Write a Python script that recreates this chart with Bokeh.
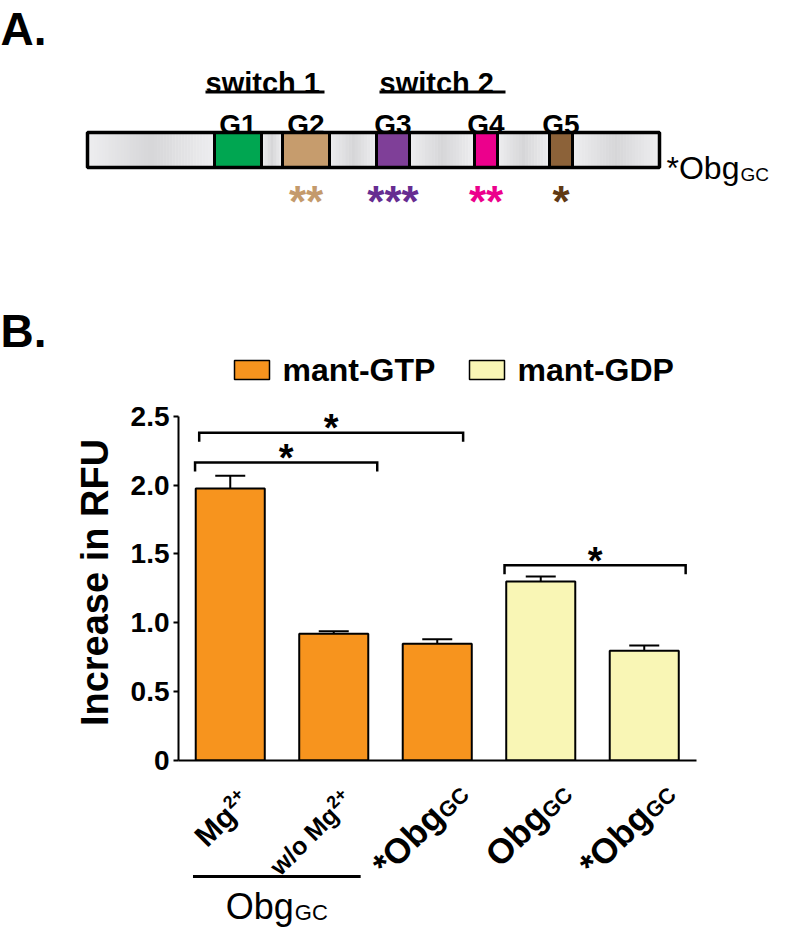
import numpy as np
from bokeh.plotting import figure
from bokeh.models import Range1d, FixedTicker, Whisker, TeeHead, ColumnDataSource
from bokeh.embed import file_html
from bokeh.resources import INLINE
from bokeh.core.properties import value

# ---------------- Panel A data (schematic positions along the construct) ----------------
motif_names = ["G1", "G2", "G3", "G4", "G5"]
motif_start = [222, 290, 384, 482, 557]
motif_end = [269, 337, 417, 505, 580]
motif_colors = ["#00a651", "#c69c6d", "#7f3f98", "#ec008c", "#8c6239"]
motif_stars = ["", "**", "***", "**", "*"]
motif_star_colors = ["#00a651", "#c49a6c", "#662d91", "#ec008c", "#603913"]
construct_span = [95, 667]
switch_names = ["switch 1", "switch 2"]
switch_start = [213, 387]
switch_end = [332, 513]
construct_name = "*Obg"
construct_sub = "GC"

# ---------------- Panel B data ----------------
cat_main = ["Mg", "w/o Mg", "*Obg", "Obg", "*Obg"]
cat_suffix = ["2+", "2+", "GC", "GC", "GC"]
cat_suffix_kind = ["sup", "sup", "sub", "sub", "sub"]
cat_series = ["mant-GTP", "mant-GTP", "mant-GTP", "mant-GDP", "mant-GDP"]
rfu_mean = [1.975, 0.920, 0.848, 1.300, 0.797]
rfu_sem = [0.093, 0.018, 0.032, 0.037, 0.038]
series_names = ["mant-GTP", "mant-GDP"]
series_colors = ["#f7941e", "#f9f6b5"]
y_ticks = [0, 0.5, 1.0, 1.5, 2.0, 2.5]
y_tick_labels = ["0", "0.5", "1.0", "1.5", "2.0", "2.5"]
sig_left = [0.20, 0.16, 3.15]
sig_right = [2.75, 1.92, 4.90]
sig_level = [2.38, 2.165, 1.418]
sig_mark = ["*", "*", "*"]
group_span = [0.14, 1.76]
group_main = "Obg"
group_sub = "GC"

# ---------------- layout / style constants ----------------
FONT = value("Liberation Sans")
MARGIN = 8
W = 776
A_BOT = 404          # page y where panel-A canvas ends
B_TOP_PAD = 8        # room above the chart frame (for the top tick label)
FRAME_TOP = A_BOT + B_TOP_PAD
X_AX_PAD = 18        # height of the x-axis panel under the chart frame
Y0_PAGE = 768        # page y of RFU = 0 (= bottom of chart frame)
B_BOT = Y0_PAGE + X_AX_PAD
C_BOT = 935          # page y where label canvas ends
LEFT = 178
X_PX = 103.5   # px per category slot
Y_PX = 137.7   # px per RFU unit
U = np.array([np.cos(np.pi / 4), -np.sin(np.pi / 4)])  # text direction (page px)
N = np.array([np.cos(np.pi / 4), np.sin(np.pi / 4)])   # glyph-down direction (page px)

ARIAL_W = {
    "normal": {"*": 389, "O": 778, "b": 556, "g": 556, "G": 778, "C": 722},
    "bold": {"*": 389, "O": 778, "b": 611, "g": 611, "G": 778, "C": 722},
}


def text_w(s, size, style):
    return sum(ARIAL_W[style][c] for c in s) * size / 1000.0


def txt(p, x, y, text, size, color="black", align="left", baseline="alphabetic",
        style="bold", angle=0.0):
    n = len(text)
    p.text(x=list(x), y=list(y), text=list(text), text_font=FONT,
           text_font_size=f"{size}px", text_font_style=style,
           text_color=color if isinstance(color, list) else [color] * n,
           text_align=align, text_baseline=baseline, angle=angle)


def canvas(height, y0, y1, x_range=None, left=0):
    p = figure(width=W, height=height,
               x_range=x_range if x_range is not None else Range1d(MARGIN, MARGIN + W),
               y_range=Range1d(y1, y0), output_backend="svg", toolbar_location=None,
               min_border=0, min_border_left=left,
               x_axis_location=None, y_axis_location=None)
    p.grid.visible = False
    p.outline_line_color = None
    return p


# ======================= Panel A (+ "B." and legend) =======================
pA = canvas(A_BOT - MARGIN, MARGIN, A_BOT)

txt(pA, [MARGIN], [36], ["A."], 46)
txt(pA, [MARGIN], [338], ["B."], 46)

# switch labels + underline
txt(pA, switch_start, [90] * 2, switch_names, 29)
pA.segment(x0=switch_start, y0=[99.5] * 2, x1=switch_end, y1=[99.5] * 2,
           line_width=3, line_color="black")

# gradient gray body of the construct
bar_top, bar_bot = 140, 175
bounds = [construct_span[0]] + [v for pair in zip(motif_start, motif_end) for v in pair] + [construct_span[1]]
sl, sr, sc = [], [], []
for a, b in zip(bounds[0::2], bounds[1::2]):
    n = max(4, int((b - a) / 3))
    xs = np.linspace(a, b, n + 1)
    for k in range(n):
        t = (k + 0.5) / n
        g = 1 - abs(t - 0.5) * 2
        v = int(round(238 - 24 * g))
        sl.append(xs[k]); sr.append(xs[k + 1] + 0.4)
        sc.append("#%02x%02x%02x" % (v, v, min(255, v + 2)))
pA.quad(left=sl, right=sr, top=[bar_top] * len(sl), bottom=[bar_bot] * len(sl),
        fill_color=sc, line_color=None)

# motif boxes and outline
pA.quad(left=motif_start, right=motif_end, top=[bar_top] * 5, bottom=[bar_bot] * 5,
        fill_color=motif_colors, line_color="black", line_width=3)
pA.quad(left=[construct_span[0]], right=[construct_span[1]], top=[bar_top], bottom=[bar_bot],
        fill_color=None, line_color="black", line_width=3.5)

centers = [(s + e) / 2 for s, e in zip(motif_start, motif_end)]
txt(pA, centers, [132] * 5, motif_names, 28, align="center")

star_idx = [i for i, s in enumerate(motif_stars) if s]
txt(pA, [centers[i] for i in star_idx], [209] * len(star_idx),
    [motif_stars[i] for i in star_idx], 44,
    color=[motif_star_colors[i] for i in star_idx], align="center")

cx0 = 674
txt(pA, [cx0], [175], [construct_name], 32, style="normal")
txt(pA, [cx0 + text_w(construct_name, 32, "normal") + 1], [182], [construct_sub], 19, style="normal")

# legend of panel B (manual, in the series colours)
leg_x_page = [242, 477]
leg_y_page = 377.5
for name, color, lx in zip(series_names, series_colors, leg_x_page):
    pA.quad(left=[lx], right=[lx + 35], top=[leg_y_page - 9.5], bottom=[leg_y_page + 9.5],
            fill_color=color, line_color="black", line_width=1.5)
    txt(pA, [lx + 48], [leg_y_page], [name], 32, baseline="middle")

# ======================= Panel B chart =======================
frame_w = W - LEFT

pB = figure(width=W, height=B_BOT - A_BOT, x_range=Range1d(0, frame_w / X_PX),
            y_range=Range1d(0, (Y0_PAGE - FRAME_TOP) / Y_PX),
            output_backend="svg", toolbar_location=None,
            min_border_left=LEFT, min_border_right=0, min_border_top=B_TOP_PAD,
            min_border_bottom=X_AX_PAD)
pB.grid.visible = False
pB.outline_line_color = None

for s, color in zip(series_names, series_colors):
    idx = [i for i in range(len(cat_series)) if cat_series[i] == s]
    src = ColumnDataSource(dict(
        x=[i + 0.5 for i in idx],
        top=[rfu_mean[i] for i in idx],
        upper=[rfu_mean[i] + rfu_sem[i] for i in idx],
    ))
    pB.vbar(x="x", top="top", bottom=0, width=0.667, source=src,
            fill_color=color, line_color="black", line_width=2)
    pB.add_layout(Whisker(source=src, base="x", lower="top", upper="upper",
                          upper_head=TeeHead(size=30, line_width=2, line_color="black"),
                          lower_head=None, line_width=2, line_color="black"))

# significance brackets
drop = 9 / Y_PX
pB.multi_line(xs=[[a, a, b, b] for a, b in zip(sig_left, sig_right)],
              ys=[[y - drop, y, y, y - drop] for y in sig_level],
              line_width=2.5, line_color="black", line_join="miter")
txt(pB, [(a + b) / 2 for a, b in zip(sig_left, sig_right)],
    [y + 4.5 / Y_PX for y in sig_level], sig_mark, 38, align="center")

# axes
yax = pB.yaxis[0]
yax.bounds = (0, 2.5)
yax.ticker = FixedTicker(ticks=y_ticks)
yax.major_label_overrides = {t: l for t, l in zip(y_ticks, y_tick_labels)}
yax.minor_tick_line_color = None
yax.major_tick_out = 5
yax.major_tick_in = 0
yax.major_tick_line_width = 2
yax.axis_line_width = 2
yax.major_label_standoff = 4
yax.major_label_text_font = "Liberation Sans"
yax.major_label_text_font_style = "bold"
yax.major_label_text_font_size = "28px"
yax.major_label_text_color = "black"
yax.axis_label = "Increase in RFU"
yax.axis_label_text_font = "Liberation Sans"
yax.axis_label_text_font_style = "bold"
yax.axis_label_text_font_size = "38px"
yax.axis_label_text_color = "black"
yax.axis_label_standoff = 12

xax = pB.xaxis[0]
xax.bounds = (0, 5)
xax.ticker = FixedTicker(ticks=[])
xax.major_tick_out = 0
xax.major_tick_in = 0
xax.minor_tick_out = 0
xax.minor_tick_in = 0
xax.major_label_standoff = 0
xax.axis_label_standoff = 0
xax.axis_line_width = 2

# ======================= category labels (shared x scale) =======================
pC = canvas(C_BOT - B_BOT, B_BOT, C_BOT, x_range=pB.x_range, left=LEFT)

lab_y_page = 818
main_sizes = [30, 25, 35, 35, 35]
suffix_sizes = [18, 18, 22, 22, 22]
for i, (m, sfx, kind) in enumerate(zip(cat_main, cat_suffix, cat_suffix_kind)):
    xm = i + 0.5
    txt(pC, [xm], [lab_y_page], [m], main_sizes[i], align="right", angle=np.pi / 4)
    shift = 6 if kind == "sub" else -7
    off = 0.5 * U + shift * N
    txt(pC, [xm + off[0] / X_PX], [lab_y_page + off[1]], [sfx], suffix_sizes[i],
        align="left", angle=np.pi / 4)

# group bracket under first two categories
pC.segment(x0=[group_span[0]], y0=[884], x1=[group_span[1]], y1=[884],
           line_width=3, line_color="black")
gcx = (group_span[0] + group_span[1]) / 2
wm = text_w(group_main, 36, "normal")
ws = text_w(group_sub, 22, "normal")
gx0 = gcx - (wm + ws + 1) / 2 / X_PX
txt(pC, [gx0], [914], [group_main], 36, style="normal")
txt(pC, [gx0 + (wm + 1) / X_PX], [920], [group_sub], 22, style="normal")

open("out.html", "w").write(file_html([pA, pB, pC], INLINE))
